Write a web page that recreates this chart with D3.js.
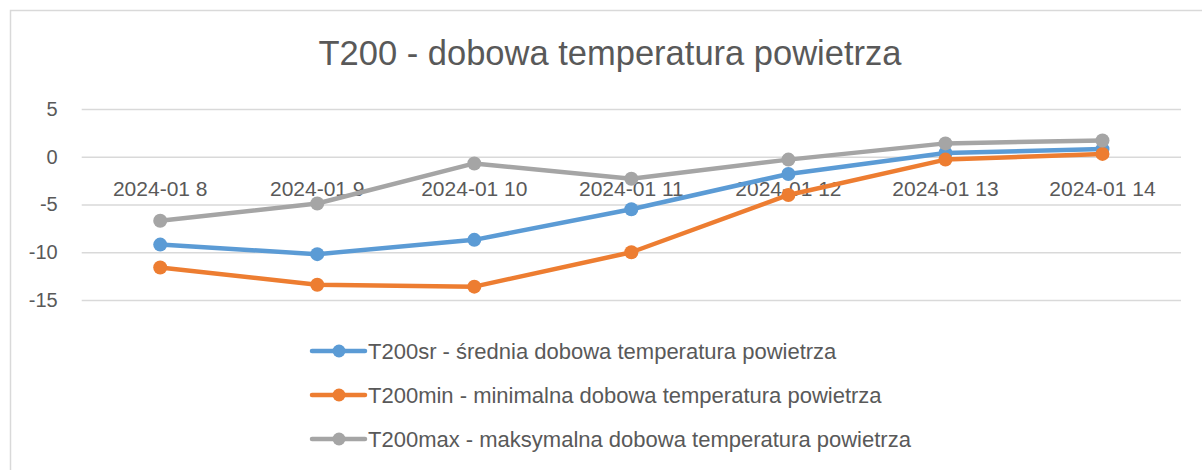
<!DOCTYPE html>
<html>
<head>
<meta charset="utf-8">
<script src="https://cdn.jsdelivr.net/npm/d3@7"></script>
<style>
  html, body { margin: 0; padding: 0; background: #ffffff; }
  svg { display: block; }
</style>
</head>
<body>
<svg id="chart" width="1202" height="470"></svg>
<script>
const categories = ["2024-01 8", "2024-01 9", "2024-01 10", "2024-01 11", "2024-01 12", "2024-01 13", "2024-01 14"];
const t200sr  = [-9.2, -10.2, -8.7, -5.5, -1.8, 0.4, 0.8];
const t200min = [-11.6, -13.4, -13.6, -10.0, -4.0, -0.3, 0.3];
const t200max = [-6.7, -4.9, -0.7, -2.3, -0.3, 1.4, 1.7];
const seriesNames = [
  "T200sr - średnia dobowa temperatura powietrza",
  "T200min - minimalna dobowa temperatura powietrza",
  "T200max - maksymalna dobowa temperatura powietrza"
];
const yTicks = [5, 0, -5, -10, -15];
const titleText = "T200 - dobowa temperatura powietrza";

const colors = ["#5B9BD5", "#ED7D31", "#A5A5A5"];
const seriesValues = [t200sr, t200min, t200max];
const textColor = "#595959";
const gridColor = "#D9D9D9";
const font = "'Liberation Sans', Arial, sans-serif";

const svg = d3.select("#chart");
svg.append("rect").attr("x", 0).attr("y", 0).attr("width", 1202).attr("height", 470).attr("fill", "#fff");
// chart border (top and left visible)
svg.append("rect").attr("x", 10.5).attr("y", 10.5).attr("width", 1300).attr("height", 600)
  .attr("fill", "none").attr("stroke", gridColor).attr("stroke-width", 1.5);

const plot = { left: 81.7, right: 1181, top: 109, bottom: 300 };

const x = d3.scaleBand().domain(categories).range([plot.left, plot.right]).padding(0);
const cx = d => x(d) + x.bandwidth() / 2;
const y = d3.scaleLinear().domain([-15, 5]).range([plot.bottom, plot.top]);

// title
svg.append("text").attr("x", 610).attr("y", 65).attr("text-anchor", "middle")
  .attr("font-family", font).attr("font-size", 34.5).attr("fill", textColor).text(titleText);

// y axis + gridlines
const yAxis = d3.axisLeft(y).tickValues(yTicks).tickSize(-(plot.right - plot.left)).tickPadding(24)
  .tickFormat(d => String(d));
const yg = svg.append("g").attr("transform", `translate(${plot.left},0)`).call(yAxis);
yg.select(".domain").remove();
yg.selectAll(".tick line").attr("stroke", gridColor).attr("stroke-width", 1.5);
yg.selectAll(".tick text").attr("font-family", font).attr("font-size", 20).attr("fill", textColor);

// x axis labels at zero line
const xAxis = d3.axisBottom(x).tickSize(0).tickPadding(24);
const xg = svg.append("g").attr("transform", `translate(0,${y(0)})`).call(xAxis);
xg.select(".domain").remove();
xg.selectAll(".tick text").attr("font-family", font).attr("font-size", 21).attr("fill", textColor);

// series
const line = d3.line().x((d, i) => cx(categories[i])).y(d => y(d));
seriesValues.forEach((vals, si) => {
  const g = svg.append("g");
  g.append("path").datum(vals).attr("d", line).attr("fill", "none")
    .attr("stroke", colors[si]).attr("stroke-width", 4.5).attr("stroke-linejoin", "round").attr("stroke-linecap", "round");
  g.selectAll("circle").data(vals).join("circle")
    .attr("cx", (d, i) => cx(categories[i])).attr("cy", d => y(d)).attr("r", 7)
    .attr("fill", colors[si]);
});

// legend
const legendY = [351, 395, 439];
seriesNames.forEach((name, i) => {
  const g = svg.append("g").attr("transform", `translate(0,${legendY[i]})`);
  g.append("line").attr("x1", 312).attr("x2", 365).attr("y1", 0).attr("y2", 0)
    .attr("stroke", colors[i]).attr("stroke-width", 4.5).attr("stroke-linecap", "round");
  g.append("circle").attr("cx", 339).attr("cy", 0).attr("r", 6.5).attr("fill", colors[i]);
  g.append("text").attr("x", 368).attr("y", 0).attr("dy", "0.35em")
    .attr("font-family", font).attr("font-size", 22).attr("fill", textColor).text(name);
});
</script>
</body>
</html>
